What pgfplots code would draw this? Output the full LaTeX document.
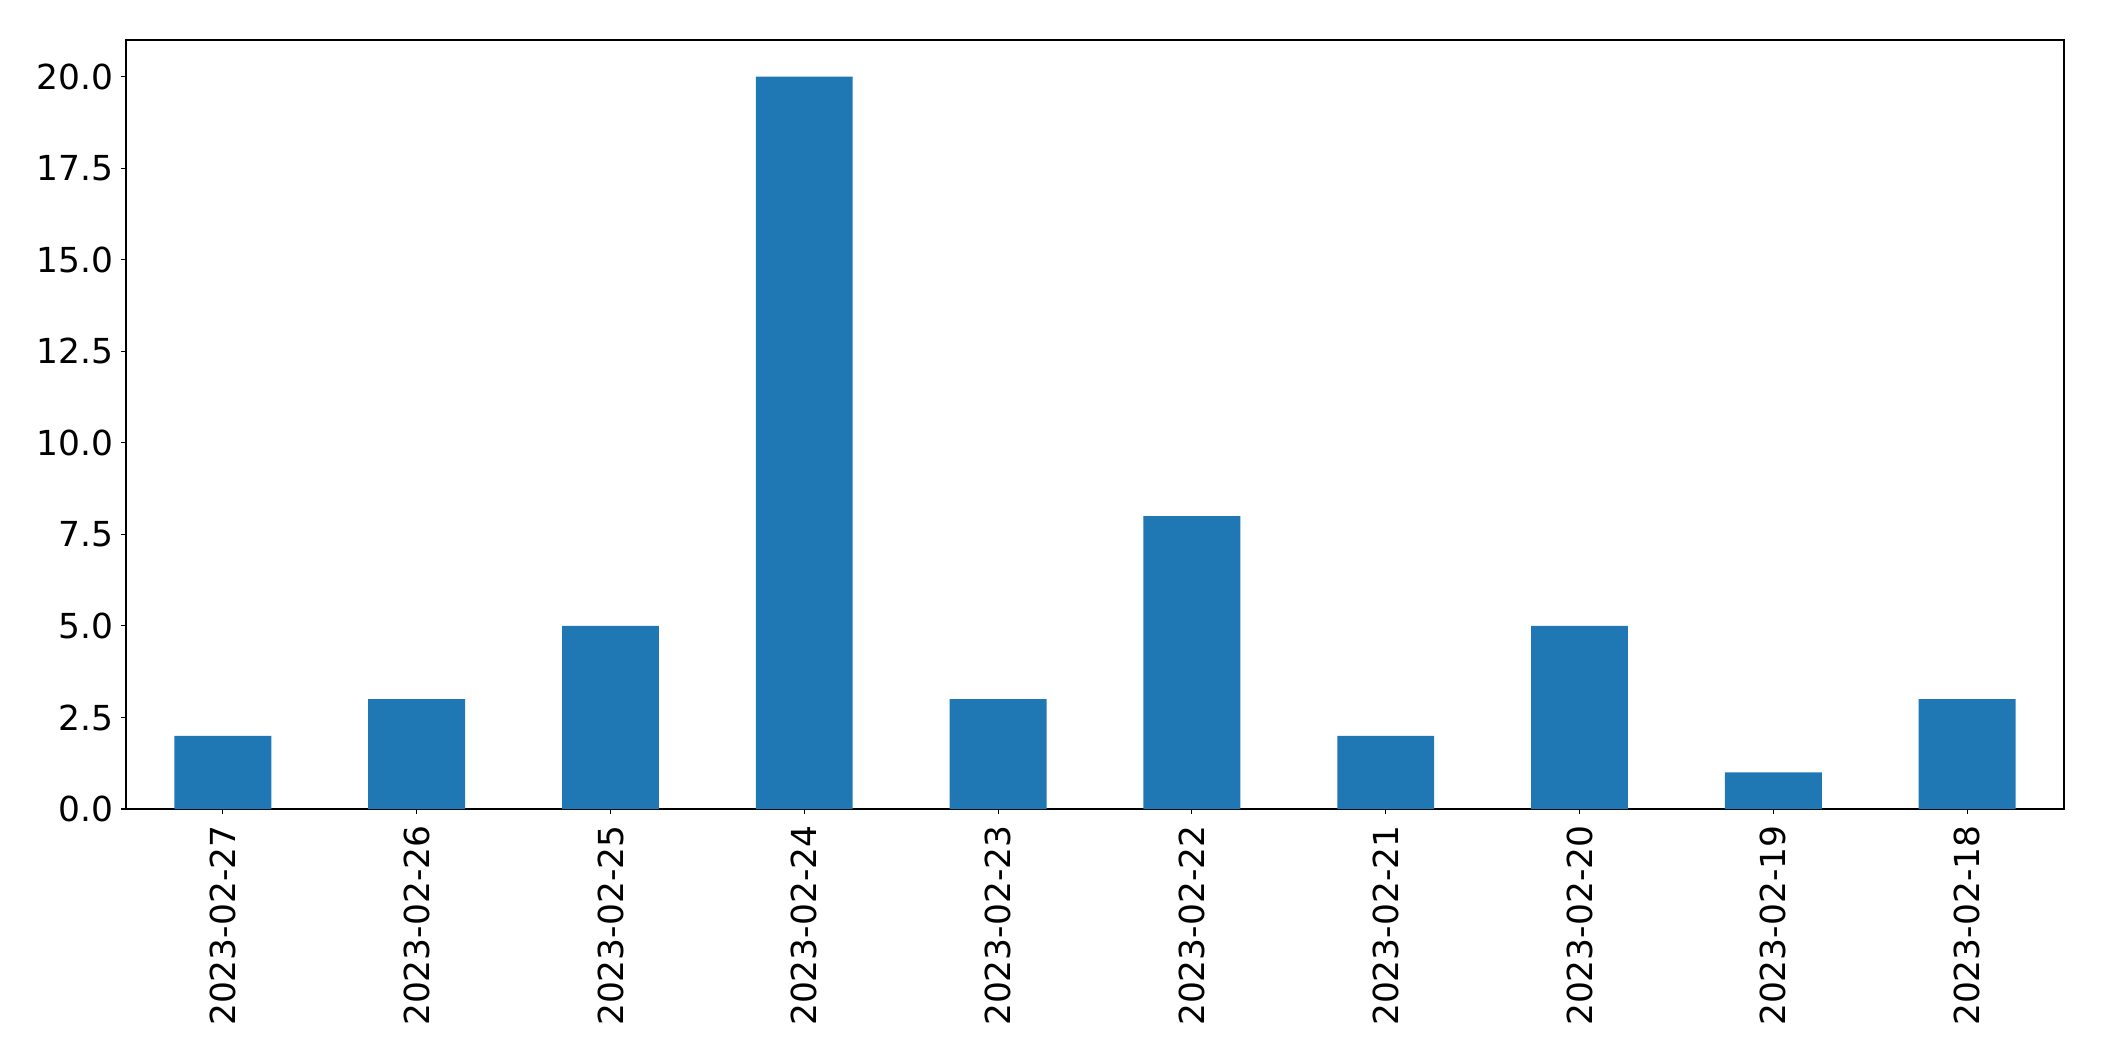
\documentclass[border=0pt]{standalone}
\usepackage{fontspec}
\setmainfont{DejaVu Sans}
\usepackage{pgfplots}
\pgfplotsset{compat=1.18}
\definecolor{tabblue}{HTML}{1F77B4}
\begin{document}
\fontsize{24.8}{28}\selectfont
\begin{tikzpicture}
\begin{axis}[
  scale only axis,
  width=1395.4pt, height=553.7pt,
  at={(0,0)}, anchor=south west,
  xmin=-0.5, xmax=9.5,
  ymin=0, ymax=21,
  xtick=data,
  xticklabels={2023-02-27,2023-02-26,2023-02-25,2023-02-24,2023-02-23,2023-02-22,2023-02-21,2023-02-20,2023-02-19,2023-02-18},
  x tick label style={rotate=90, anchor=east},
  ytick={0,2.5,5,7.5,10,12.5,15,17.5,20},
  yticklabel style={/pgf/number format/.cd, fixed, fixed zerofill, precision=1},
  /pgf/number format/assume math mode=true,
  tick align=outside,
  major tick length=3.5pt,
  tick style={black, line width=0.8pt},
  axis line style={line width=0.8pt},
  xtick pos=bottom, ytick pos=left,
  ticklabel style={font=\fontsize{24.8}{28}\selectfont},
  xticklabel shift=0pt, yticklabel shift=-3pt,
]
\addplot[ybar, bar width=0.5, fill=tabblue, draw=none] coordinates {
(0,2) (1,3) (2,5) (3,20) (4,3) (5,8) (6,2) (7,5) (8,1) (9,3)
};
\end{axis}
\pgfresetboundingbox
\path (-90.7pt,-181.4pt) rectangle (1424.2pt,582.5pt);
\end{tikzpicture}
\end{document}
